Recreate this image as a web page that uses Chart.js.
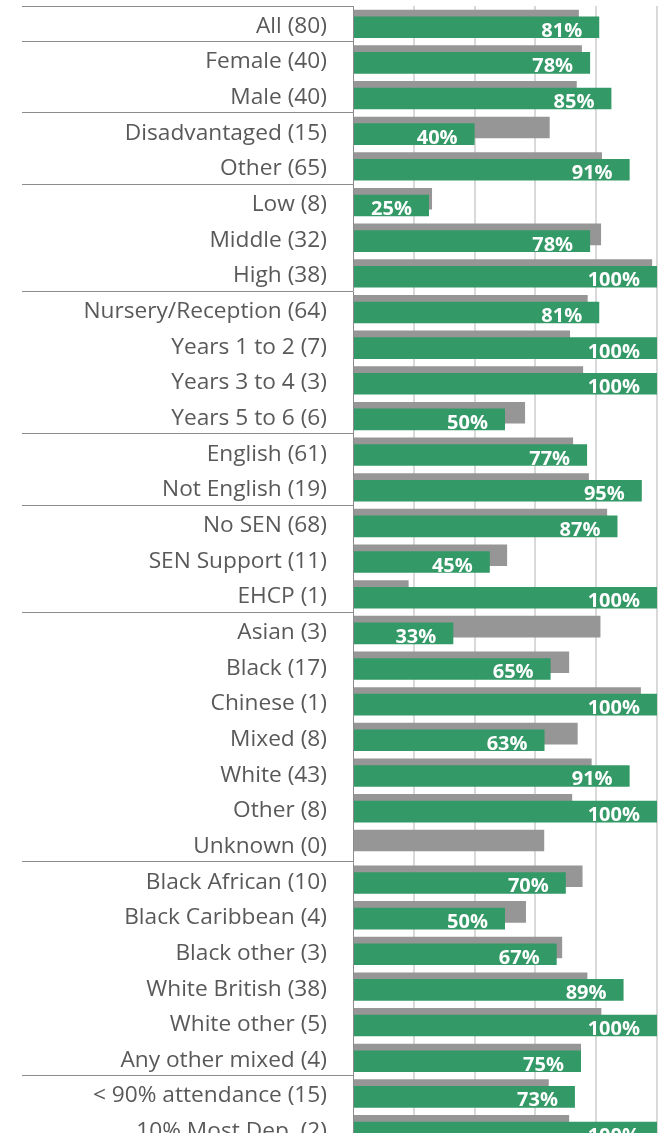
<!DOCTYPE html>
<html>
<head>
<meta charset="utf-8">
<script src="https://cdn.jsdelivr.net/npm/chart.js@4"></script>
<style>
  html, body { margin: 0; padding: 0; background: #fff; overflow: hidden; }
  #wrap { width: 668px; height: 1133px; overflow: hidden; }
</style>
</head>
<body>
<div id="wrap"><canvas id="groups" width="668" height="1150"></canvas></div>
<script>
// rows of the table, top to bottom
const groupLabels = [
  'All (80)', 'Female (40)', 'Male (40)', 'Disadvantaged (15)', 'Other (65)',
  'Low (8)', 'Middle (32)', 'High (38)', 'Nursery/Reception (64)', 'Years 1 to 2 (7)',
  'Years 3 to 4 (3)', 'Years 5 to 6 (6)', 'English (61)', 'Not English (19)', 'No SEN (68)',
  'SEN Support (11)', 'EHCP (1)', 'Asian (3)', 'Black (17)', 'Chinese (1)',
  'Mixed (8)', 'White (43)', 'Other (8)', 'Unknown (0)', 'Black African (10)',
  'Black Caribbean (4)', 'Black other (3)', 'White British (38)', 'White other (5)', 'Any other mixed (4)',
  '< 90% attendance (15)', '10% Most Dep. (2)'
]
// green bars (school %)
const schoolPct = [
  81, 78, 85, 40, 91,
  25, 78, 100, 81, 100,
  100, 50, 77, 95, 87,
  45, 100, 33, 65, 100,
  63, 91, 100, null, 70,
  50, 67, 89, 100, 75,
  73, 100
]
// grey bars (comparison %)
const comparisonPct = [
  74.3, 75.3, 73.6, 64.7, 81.9,
  26, 81.6, 98.4, 77.2, 71.4,
  75.7, 56.6, 72.4, 77.6, 83.6,
  50.7, 18.3, 81.4, 71.1, 94.7,
  73.9, 78.5, 72.1, 62.9, 75.5,
  56.9, 68.8, 77.1, 81.7, 75.0,
  64.4, 71.1
]
// index of the first row of each group (line drawn above it)
const groupStarts = [0, 1, 3, 5, 8, 12, 14, 17, 24, 30]

// grey has to sit under the green bar
const greyFirst = {
  id: 'greyFirst',
  beforeDatasetDraw(chart, args) {
    if (args.index === 0) return false
    if (args.index === 1) chart.getDatasetMeta(0).controller.draw()
  }
}

const pctLabels = {
  id: 'pctLabels',
  afterDatasetsDraw(chart) {
    const ctx = chart.ctx
    const meta = chart.getDatasetMeta(1)
    ctx.save()
    ctx.fillStyle = '#ffffff'
    ctx.font = 'bold 20px "Open Sans"'
    ctx.textAlign = 'right'
    ctx.textBaseline = 'alphabetic'
    meta.data.forEach((bar, i) => {
      const v = schoolPct[i]
      if (v === null) return
      ctx.fillText(v + '%', bar.x - 17, bar.y + 9.5)
    })
    ctx.restore()
  }
}

const ctx = document.getElementById('groups').getContext('2d')
const groupChart = new Chart(ctx, {
  type: 'bar',
  data: {
    labels: groupLabels,
    datasets: [
      {
        label: 'Comparison',
        data: comparisonPct,
        backgroundColor: '#969696',
        categoryPercentage: 0.376,
        barPercentage: 3.22
      },
      {
        label: 'School',
        data: schoolPct,
        backgroundColor: '#339966',
        categoryPercentage: 0.376,
        barPercentage: 3.22
      }
    ]
  },
  options: {
    indexAxis: 'y',
    responsive: false,
    animation: false,
    devicePixelRatio: 1,
    layout: { padding: { top: 6, right: 11, bottom: 3, left: 0 } },
    plugins: {
      legend: { display: false },
      tooltip: { enabled: false }
    },
    scales: {
      x: {
        min: 0,
        max: 100,
        ticks: { display: false, stepSize: 20 },
        border: { display: false },
        grid: {
          drawTicks: false,
          lineWidth: 2,
          color: (c) => c.tick && c.tick.value === 0 ? 'rgba(0,0,0,0)' : '#d9d9d9'
        }
      },
      y: {
        afterFit: (scale) => { scale.width = 353 },
        ticks: {
          autoSkip: false,
          color: '#595959',
          font: { family: 'Open Sans', size: 22.7 },
          padding: -305,
          labelOffset: 2.5
        },
        border: { color: '#8c8c8c', width: 1 },
        grid: {
          drawOnChartArea: false,
          tickLength: 331,
          tickWidth: 1,
          tickColor: (c) => groupStarts.includes(c.index) ? '#8c8c8c' : 'rgba(0,0,0,0)'
        }
      }
    }
  },
  plugins: [greyFirst, pctLabels]
})
</script>
</body>
</html>
